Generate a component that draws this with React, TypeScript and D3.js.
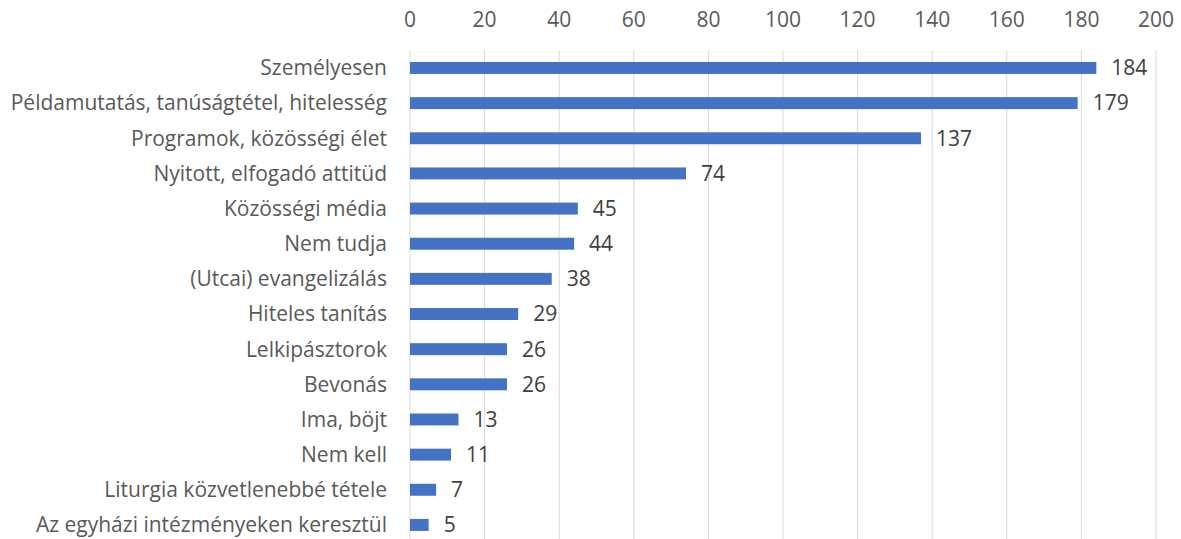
import { useEffect, useRef } from "react";
import * as d3 from "d3";

const categories = [
  "Személyesen",
  "Példamutatás, tanúságtétel, hitelesség",
  "Programok, közösségi élet",
  "Nyitott, elfogadó attitüd",
  "Közösségi média",
  "Nem tudja",
  "(Utcai) evangelizálás",
  "Hiteles tanítás",
  "Lelkipásztorok",
  "Bevonás",
  "Ima, böjt",
  "Nem kell",
  "Liturgia közvetlenebbé tétele",
  "Az egyházi intézményeken keresztül",
];
const values = [184, 179, 137, 74, 45, 44, 38, 29, 26, 26, 13, 11, 7, 5];
const ticks = [0, 20, 40, 60, 80, 100, 120, 140, 160, 180, 200];

export default function App() {
  const ref = useRef<SVGSVGElement>(null);

  useEffect(() => {
    const width = 1181;
    const height = 539;
    const svg = d3.select(ref.current);
    svg.selectAll("*").remove();

    const font = "'Open Sans', sans-serif";
    const fontSize = "21px";
    const x = d3.scaleLinear().domain([0, 200]).range([410, 1156]);
    const y = d3
      .scaleBand()
      .domain(categories)
      .range([50.4, 542.5])
      .paddingInner(0.66)
      .paddingOuter(0.33);

    // gridlines
    svg
      .append("g")
      .selectAll("line")
      .data(ticks)
      .enter()
      .append("line")
      .attr("x1", (d) => x(d))
      .attr("x2", (d) => x(d))
      .attr("y1", 50.5)
      .attr("y2", height)
      .attr("stroke", "#d9d9d9")
      .attr("stroke-width", 1);

    // top tick labels
    svg
      .append("g")
      .selectAll("text")
      .data(ticks)
      .enter()
      .append("text")
      .attr("x", (d) => x(d))
      .attr("y", 20)
      .attr("dy", "0.35em")
      .attr("text-anchor", "middle")
      .attr("fill", "#595959")
      .style("font-family", font)
      .style("font-size", fontSize)
      .text((d) => d);

    // bars
    svg
      .append("g")
      .selectAll("rect")
      .data(values)
      .enter()
      .append("rect")
      .attr("x", x(0))
      .attr("y", (_, i) => y(categories[i])!)
      .attr("width", (d) => x(d) - x(0))
      .attr("height", y.bandwidth())
      .attr("fill", "#4472c4");

    // category labels
    svg
      .append("g")
      .selectAll("text")
      .data(categories)
      .enter()
      .append("text")
      .attr("x", 387)
      .attr("y", (d) => y(d)! + y.bandwidth() / 2)
      .attr("dy", "0.35em")
      .attr("text-anchor", "end")
      .attr("fill", "#595959")
      .style("font-family", font)
      .style("font-size", fontSize)
      .text((d) => d);

    // value labels
    svg
      .append("g")
      .selectAll("text")
      .data(values)
      .enter()
      .append("text")
      .attr("x", (d) => x(d) + 15)
      .attr("y", (_, i) => y(categories[i])! + y.bandwidth() / 2)
      .attr("dy", "0.35em")
      .attr("fill", "#404040")
      .style("font-family", font)
      .style("font-size", fontSize)
      .text((d) => d);

    svg.attr("width", width).attr("height", height);
  }, []);

  return (
    <svg
      ref={ref}
      width={1181}
      height={539}
      style={{ position: "absolute", left: 0, top: 0, background: "#fff" }}
    />
  );
}
